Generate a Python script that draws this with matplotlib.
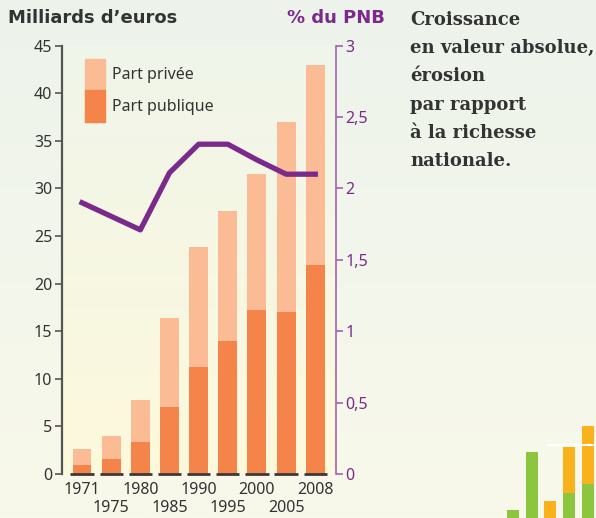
import numpy as np
import matplotlib
matplotlib.use('Agg')
from matplotlib import pyplot as plt
from matplotlib.colors import LinearSegmentedColormap
from matplotlib.patches import Patch

annees = ['1971', '1975', '1980', '1985', '1990', '1995', '2000', '2005', '2008']
part_publique = [0.9, 1.6, 3.4, 7.0, 11.2, 14.0, 17.2, 17.0, 22.0]
total = [2.6, 4.0, 7.8, 16.4, 23.8, 27.6, 31.5, 37.0, 43.0]
part_privee = [t - p for t, p in zip(total, part_publique)]

# % du PNB (pas de point en 1975)
annees_pnb = ['1971', '1980', '1985', '1990', '1995', '2000', '2005', '2008']
pct_pnb = [1.90, 1.71, 2.11, 2.31, 2.31, 2.20, 2.10, 2.10]

# bout du graphique voisin, coupé en bas à droite
voisin_vert = [8, 66, 0, 25, 34]
voisin_orange = [0, 0, 17, 46, 58]
voisin_ligne = 73

c_prive = '#fbbc95'
c_public = '#f4844a'
c_violet = '#7b2a8b'
c_axe_violet = '#a361b3'

plt.rcParams['font.family'] = ['Noto Sans', 'DejaVu Sans']

W, H = 596, 518
fig = plt.figure(figsize=(W / 100, H / 100), dpi=100)

# fond dégradé
grad = np.linspace(0, 1, 256).reshape(-1, 1)
bg = fig.add_axes([0, 0, 1, 1], zorder=-10)
bg.imshow(grad, aspect='auto', extent=[0, 1, 0, 1], origin='upper',
          cmap=LinearSegmentedColormap.from_list('bg', ['#edf3ec', '#f8f9ea']))
bg.axis('off')

ax = fig.add_axes([62 / W, 44 / H, (336 - 62) / W, (474 - 45.7) / H])
ax.patch.set_alpha(0)
x = np.arange(len(annees))
xmin, xmax = -0.686, 8.71

ax.imshow(grad, aspect='auto', extent=[xmin, xmax, 0, 45], origin='upper', zorder=0,
          cmap=LinearSegmentedColormap.from_list('pl', ['#f0f5ea', '#fdf9dc']))

ax.bar(x, part_publique, 0.65, color=c_public, zorder=2)
ax.bar(x, part_privee, 0.65, bottom=part_publique, color=c_prive, zorder=2)
ax.hlines(np.zeros(len(x)), x - 0.4, x + 0.4, color='#3a3a3a', lw=2, clip_on=False, zorder=4)

ax.set_xlim(xmin, xmax)
ax.set_ylim(0, 45)
ax.set_yticks(range(0, 46, 5))
for s in ['top', 'right', 'bottom']:
    ax.spines[s].set_visible(False)
ax.spines['left'].set_color('#555555')
ax.spines['left'].set_linewidth(1.6)
ax.tick_params(axis='y', direction='out', length=5, width=1.2, color='#555555',
               labelsize=11.5, labelcolor='#333333', pad=2)

# années sur deux rangées
ax.set_xticks(x[::2])
ax.set_xticklabels(annees[::2])
ax.set_xticks(x[1::2], minor=True)
ax.set_xticklabels(annees[1::2], minor=True)
ax.tick_params(axis='x', which='major', length=0, labelsize=11.5, labelcolor='#333333', pad=6)
ax.tick_params(axis='x', which='minor', length=0, labelsize=11.5, labelcolor='#333333', pad=19)

handles = [Patch(color=c_prive, label='Part privée'), Patch(color=c_public, label='Part publique')]
ax.legend(handles=handles, loc='upper left', bbox_to_anchor=(0.084, 0.970), frameon=False,
          borderpad=0, borderaxespad=0, handlelength=1.25, handleheight=2.7,
          labelspacing=0, handletextpad=0.45, fontsize=11.5, labelcolor='#333333')

ax2 = ax.twinx()
ax2.set_ylim(0, 3)
ax2.set_yticks([0, 0.5, 1, 1.5, 2, 2.5, 3])
ax2.set_yticklabels(['0', '0,5', '1', '1,5', '2', '2,5', '3'])
for s in ['top', 'left', 'bottom']:
    ax2.spines[s].set_visible(False)
ax2.spines['right'].set_color(c_axe_violet)
ax2.spines['right'].set_linewidth(1.2)
ax2.tick_params(axis='y', direction='out', length=5, width=1.2, color=c_axe_violet,
                labelsize=11.5, labelcolor=c_violet, pad=2)
x_pnb = [annees.index(a) for a in annees_pnb]
ax2.plot(x_pnb, pct_pnb, color=c_violet, lw=3.8, zorder=5)

fig.text(8 / W, 1 - 18 / H, 'Milliards d’euros', family='DejaVu Sans', fontsize=13,
         fontweight='bold', color='#333333', va='center')
fig.text(287 / W, 1 - 18 / H, '% du PNB', family='DejaVu Sans', fontsize=13,
         fontweight='bold', color=c_violet, va='center')
fig.text(410 / W, 1 - 11 / H,
         'Croissance\nen valeur absolue,\nérosion\npar rapport\nà la richesse\nnationale.',
         family='DejaVu Serif', fontweight='bold', fontsize=13, color='#333333',
         va='top', ha='left', linespacing=1.73)

# graphique voisin
axv = fig.add_axes([500 / W, 0, 100 / W, 118 / H])
axv.bar(range(5), voisin_vert, 0.64, color='#8cc63f')
axv.bar(range(5), voisin_orange, 0.64, bottom=voisin_vert, color='#f9b21b')
axv.axhline(voisin_ligne, xmin=0.48, xmax=1, color='white', lw=1.5)
axv.set_xlim(-0.693, 4.64)
axv.set_ylim(0, 118)
axv.axis('off')

fig.savefig('out.png', dpi=100)
